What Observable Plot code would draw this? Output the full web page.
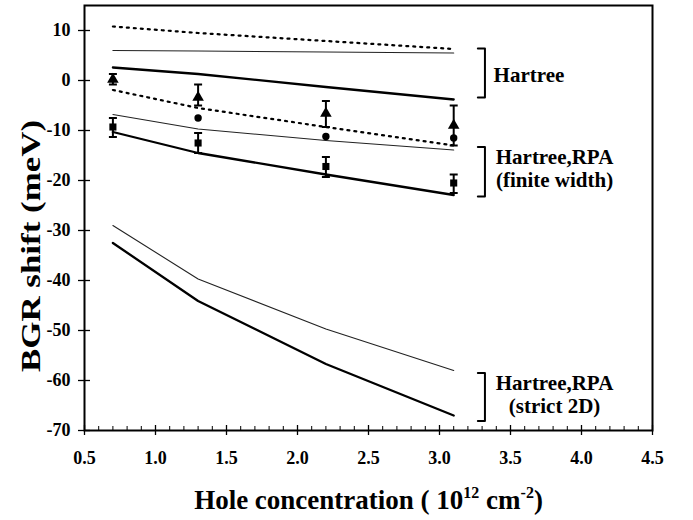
<!DOCTYPE html>
<html><head><meta charset="utf-8">
<script src="https://cdn.jsdelivr.net/npm/d3@7"></script>
<script src="https://cdn.jsdelivr.net/npm/@observablehq/plot@0.6"></script>
<style>html,body{margin:0;padding:0;background:#fff}</style>
</head><body><div id="chart"></div>
<script>
// Hole concentrations (10^12 cm^-2) of the calculated curves
const conc = [0.7, 1.3, 2.2, 3.1];
// Hartree curves
const hartreeDotted = [10.8, 9.5, 7.9, 6.3];
const hartreeThin   = [6.0, 5.9, 5.7, 5.5];
const hartreeThick  = [2.6, 1.3, -1.3, -3.8];
// Hartree + RPA, finite width
const finiteDotted  = [-1.9, -5.5, -9.3, -13.0];
const finiteThin    = [-6.8, -9.7, -12.0, -13.9];
const finiteThick   = [-10.3, -14.5, -18.8, -22.9];
// Hartree + RPA, strict 2D
const strictThin    = [-29.0, -39.7, -49.7, -58.0];
const strictThick   = [-32.5, -44.1, -56.7, -67.0];

// Measured points
const triConc  = [0.7, 1.3, 2.2, 3.1];
const triShift = [0.2, -3.4, -6.6, -9.0];
const triLow   = [-0.8, -5.0, -9.3, -13.0];
const triHigh  = [1.3, -0.8, -4.1, -5.0];
const circConc  = [1.3, 2.2, 3.1];
const circShift = [-7.5, -11.2, -11.5];
const sqConc  = [0.7, 1.3, 2.2, 3.1];
const sqShift = [-9.3, -12.5, -17.2, -20.5];
const sqLow   = [-11.3, -14.5, -19.3, -22.5];
const sqHigh  = [-7.5, -10.5, -15.3, -18.8];

// Ticks
const xTicks = [0.5, 1.0, 1.5, 2.0, 2.5, 3.0, 3.5, 4.0, 4.5];
const xMinorTicks = d3.range(5, 46).map(i => i / 10);
const yTicks = [-70, -60, -50, -40, -30, -20, -10, 0, 10];

// Bracket annotations (data units)
const bracketLabels = ["Hartree", "Hartree,RPA\n(finite width)", "Hartree,RPA\n(strict 2D)"];
const bracketTop    = [6.4, -13.3, -58.5];
const bracketBottom = [-3.4, -23.2, -68.1];
const bracketLabelY = [1.2, -17.6, -62.8];
const bracketX = 3.32, bracketArmX = 3.27, bracketLabelX = [3.63, 3.81, 3.81];

const font = '"Liberation Serif","Times New Roman",Times,serif';
const idx = a => a.map((_, i) => i);

const capSymbol = {draw(ctx) { ctx.moveTo(-4, 0); ctx.lineTo(4, 0); }};

function curve(values, opts) {
  return Plot.line(idx(conc), {x: i => conc[i], y: i => values[i], stroke: "black", ...opts});
}
const thick = {strokeWidth: 2.3};
const thin = {strokeWidth: 1.1, stroke: "#222"};
const dotted = {strokeWidth: 2.2, strokeDasharray: "2,5"};

function bracketPath(i) {
  return [[bracketArmX, bracketTop[i]], [bracketX, bracketTop[i]], [bracketX, bracketBottom[i]], [bracketArmX, bracketBottom[i]]];
}

const chart = Plot.plot({
  width: 693, height: 520,
  marginLeft: 84, marginRight: 41, marginTop: 5, marginBottom: 90,
  style: {fontFamily: font, background: "#fff", color: "#000"},
  x: {domain: [0.5, 4.5], label: null},
  y: {domain: [-70, 15], label: null},
  marks: [
    // ticks
    Plot.axisY({ticks: yTicks, tickSize: 12, dx: 6, fill: "none", strokeWidth: 1.3, label: null}),
    Plot.axisY({ticks: yTicks, tickSize: 0, tickPadding: 14, tickFormat: d => String(d), fontSize: 18, fontWeight: "bold", label: null}),
    Plot.axisX({ticks: xTicks, tickSize: 10, dy: -5, fill: "none", strokeWidth: 1.3, label: null}),
    Plot.axisX({ticks: xMinorTicks, tickSize: 4, dy: -4, fill: "none", strokeWidth: 1, label: null}),
    Plot.axisX({ticks: xTicks, tickSize: 0, tickPadding: 21, tickFormat: d => d.toFixed(1), fontSize: 18, fontWeight: "bold", label: null}),
    Plot.frame({strokeWidth: 2}),
    // curves
    curve(hartreeDotted, dotted),
    curve(hartreeThin, thin),
    curve(hartreeThick, thick),
    curve(finiteDotted, dotted),
    curve(finiteThin, thin),
    curve(finiteThick, thick),
    curve(strictThin, thin),
    curve(strictThick, thick),
    // error bars
    Plot.ruleX(idx(triConc), {x: i => triConc[i], y1: i => triLow[i], y2: i => triHigh[i], strokeWidth: 2}),
    Plot.dot(idx(triConc), {x: i => triConc[i], y: i => triLow[i], symbol: capSymbol, stroke: "black", fill: "none", strokeWidth: 2}),
    Plot.dot(idx(triConc), {x: i => triConc[i], y: i => triHigh[i], symbol: capSymbol, stroke: "black", fill: "none", strokeWidth: 2}),
    Plot.ruleX(idx(sqConc), {x: i => sqConc[i], y1: i => sqLow[i], y2: i => sqHigh[i], strokeWidth: 2}),
    Plot.dot(idx(sqConc), {x: i => sqConc[i], y: i => sqLow[i], symbol: capSymbol, stroke: "black", fill: "none", strokeWidth: 2}),
    Plot.dot(idx(sqConc), {x: i => sqConc[i], y: i => sqHigh[i], symbol: capSymbol, stroke: "black", fill: "none", strokeWidth: 2}),
    // markers
    Plot.dot(idx(triConc), {x: i => triConc[i], y: i => triShift[i], symbol: "triangle", fill: "black", r: 4.3}),
    Plot.dot(idx(circConc), {x: i => circConc[i], y: i => circShift[i], symbol: "circle", fill: "black", r: 3.7}),
    Plot.dot(idx(sqConc), {x: i => sqConc[i], y: i => sqShift[i], symbol: "square", fill: "black", r: 4}),
    // brackets
    ...idx(bracketLabels).map(i => Plot.line(bracketPath(i), {x: d => d[0], y: d => d[1], stroke: "black", strokeWidth: 2})),
    Plot.text(idx(bracketLabels), {x: i => bracketLabelX[i], y: i => bracketLabelY[i], text: i => bracketLabels[i], fontSize: 21, fontWeight: "bold", textAnchor: "middle", lineAnchor: "middle", lineHeight: 1.08}),
    // axis titles
    Plot.text(["BGR shift (meV)"], {frameAnchor: "left", rotate: -90, dx: -53, dy: 28, fontSize: 28, fontWeight: "bold", textAnchor: "middle", lineAnchor: "middle"}),
    Plot.text(["Hole concentration ( 10"], {frameAnchor: "bottom", dy: 70, fontSize: 27, fontWeight: "bold", textAnchor: "middle", lineAnchor: "middle"})
  ]
});
document.getElementById("chart").appendChild(chart);

// Refine axis titles
const svg = d3.select(chart);
svg.selectAll("text").filter(function() { return this.textContent === "BGR shift (meV)"; })
  .attr("textLength", 252).attr("lengthAdjust", "spacingAndGlyphs");
svg.selectAll("text").filter(function() { return this.textContent === "Hole concentration ( 10"; })
  .each(function() {
    const t = d3.select(this);
    t.text(null);
    t.append("tspan").text("Hole concentration ( 10");
    t.append("tspan").attr("dy", -11).attr("font-size", "16").text("12");
    t.append("tspan").attr("dy", 11).text(" cm");
    t.append("tspan").attr("dy", -11).attr("font-size", "16").text("-2");
    t.append("tspan").attr("dy", 11).text(")");
  });
</script>
</body></html>
